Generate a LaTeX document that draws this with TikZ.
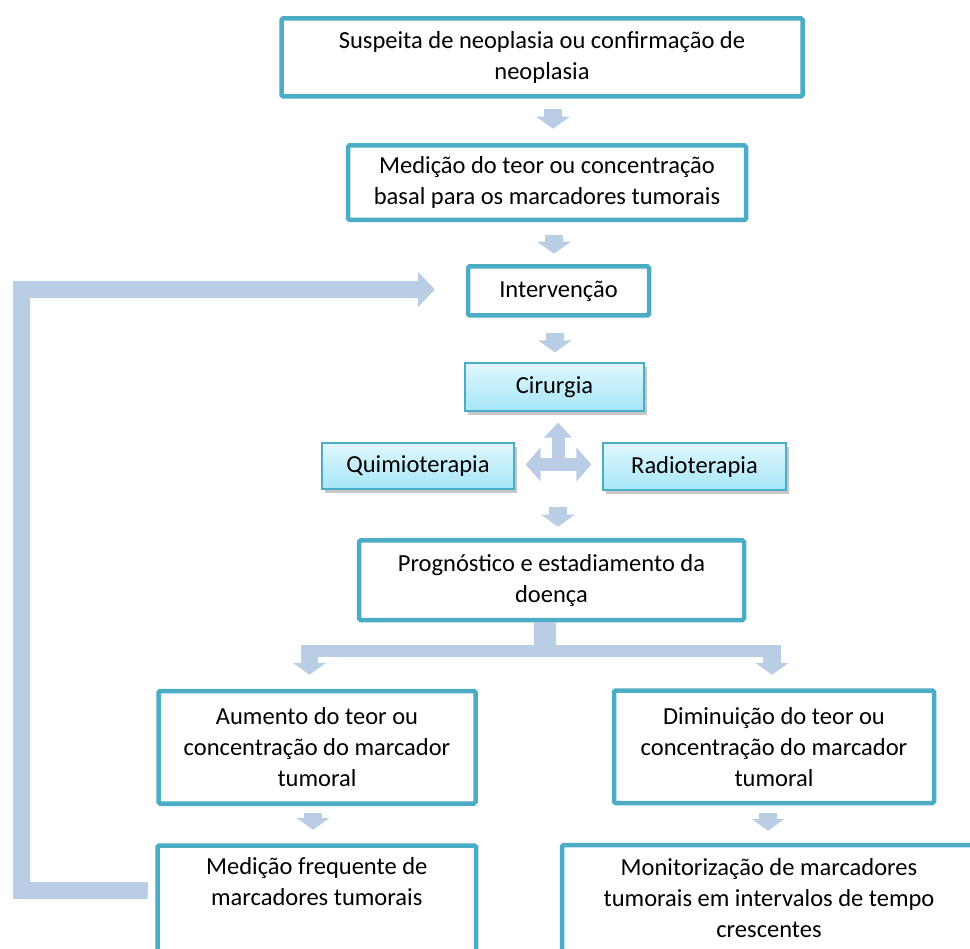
\documentclass[tikz,border=0pt]{standalone}
\usepackage{fontspec}
\setmainfont{Carlito}
\usetikzlibrary{arrows.meta,shadows,calc}
\definecolor{boxline}{HTML}{4BACC6}
\definecolor{arrowc}{HTML}{B9CDE5}
\definecolor{gradtop}{HTML}{E0F7FD}
\definecolor{gradbot}{HTML}{A6E6F8}
\begin{document}
\begin{tikzpicture}[x=1pt,y=-1pt,
  txtfont/.style={font=\fontsize{24.5}{31}\selectfont},
  mainbox/.style={draw=boxline, line width=4.5pt, rounded corners=1.5pt, inner sep=0pt, align=center, fill=white, txtfont},
  subbox/.style={draw=boxline, line width=1.2pt, inner sep=0pt, align=center, top color=gradtop, bottom color=gradbot, txtfont,
    drop shadow={shadow xshift=3pt, shadow yshift=-4pt, fill=black!40, opacity=0.55}},
  plaintxt/.style={inner sep=0pt, align=center, txtfont},
  fat/.style={draw=arrowc, line width=18pt, -{Triangle[width=33pt,length=12pt]}},
  fatline/.style={draw=arrowc, line cap=butt, line join=miter},
  quad/.style={draw=arrowc, line width=13pt},
  fb/.style={draw=arrowc, line width=17pt, line join=miter, -{Triangle[width=35pt,length=17pt]}}
]
\clip (0,0) rectangle (970,949);
\fill[white] (0,0) rectangle (970,949);

% main boxes
\node[mainbox, minimum width=521pt, minimum height=78pt] (b1) at (542,57.5)
  {Suspeita de neoplasia ou confirmação de\\neoplasia};
\node[mainbox, minimum width=398pt, minimum height=74.5pt] (b2) at (547,182.75)
  {Medição do teor ou concentração\\basal para os marcadores tumorais};
\node[mainbox, minimum width=181pt, minimum height=49pt] (interv) at (558.5,291)
  {Intervenção};

% therapy boxes
\node[subbox, minimum width=179pt, minimum height=48pt] (cir) at (554.5,387) {Cirurgia};
\node[subbox, minimum width=192pt, minimum height=46pt] (qui) at (418,466) {Quimioterapia};
\node[subbox, minimum width=183pt, minimum height=47pt] (rad) at (694.5,466.5) {Radioterapia};

\node[mainbox, minimum width=385pt, minimum height=79.5pt] (prog) at (551.5,580.25)
  {Prognóstico e estadiamento da\\doença};

\node[mainbox, minimum width=317pt, minimum height=112.5pt] (aum) at (317,747.25)
  {Aumento do teor ou\\concentração do marcador\\tumoral};
\node[mainbox, minimum width=320pt, minimum height=112.5pt] (dim) at (774,746.75)
  {Diminuição do teor ou\\concentração do marcador\\tumoral};

\node[mainbox, minimum width=318.5pt, minimum height=129.5pt] (med) at (316.75,910.25) {};
\node[plaintxt, anchor=north] (medtxt) at ([yshift=-14pt]med.north)
  {Medição frequente de\\marcadores tumorais};
\node[mainbox, minimum width=428pt, minimum height=130pt] (mon) at (776,910) {};
\node[plaintxt, anchor=north] (montxt) at ([xshift=-7pt,yshift=-16pt]mon.north)
  {Monitorização de marcadores\\tumorais em intervalos de tempo\\crescentes};

% simple down arrows
\draw[fat] ([xshift=11pt,yshift=-10.5pt]b1.south) -- ([xshift=6pt,yshift=14.5pt]b2.north);
\draw[fat] ([xshift=7pt,yshift=-13pt]b2.south) -- ([xshift=-4.5pt,yshift=10.5pt]interv.north);
\draw[fat] ([xshift=-3.5pt,yshift=-15.5pt]interv.south) -- ([xshift=0.5pt,yshift=10pt]cir.north);

% hub arrow between therapies
\coordinate (hub) at (558,464.5);
\coordinate (cirtip) at ([yshift=-11pt]cir.south);
\draw[quad, {Triangle[width=33pt,length=15pt]}-{Triangle[width=33pt,length=15pt]}]
  ([xshift=11pt]qui.east |- hub) -- ([xshift=-11pt]rad.west |- hub);
\draw[quad, -{Triangle[width=27pt,length=15pt]}] ([yshift=-6.5pt]hub) -- (hub |- cirtip);

\coordinate (progtip) at ([yshift=11.5pt]prog.north);
\draw[fat] ([yshift=-42.5pt]hub) -- (hub |- progtip);

% split
\coordinate (split) at ([xshift=-6.5pt,yshift=-29pt]prog.south);
\coordinate (lefta) at ([xshift=-7.5pt,yshift=14pt]aum.north);
\coordinate (righta) at ([xshift=-2pt,yshift=13.5pt]dim.north);
\draw[fatline, line width=22pt] ([xshift=-6.5pt]prog.south) -- (split);
\draw[fatline, line width=12pt] ([xshift=-8.5pt]lefta |- split) -- ([xshift=9pt]righta |- split);
\draw[fat, line width=17pt] ([yshift=6pt]lefta |- split) -- (lefta);
\draw[fat, line width=18pt] ([yshift=6pt]righta |- split) -- (righta);

\draw[fat] ([xshift=-4pt,yshift=-7.5pt]aum.south) -- ([xshift=-3.75pt,yshift=13.5pt]med.north);
\draw[fat] ([xshift=-6pt,yshift=-8pt]dim.south) -- ([xshift=-8pt,yshift=12pt]mon.north);

% feedback loop
\coordinate (fbstart) at ([xshift=-7.5pt,yshift=19.5pt]med.west);
\coordinate (fbcorner) at (21.5,890.5);
\draw[fb] (fbstart) -- (fbcorner) |- ([xshift=-31pt,yshift=1.5pt]interv.west);
\end{tikzpicture}
\end{document}
